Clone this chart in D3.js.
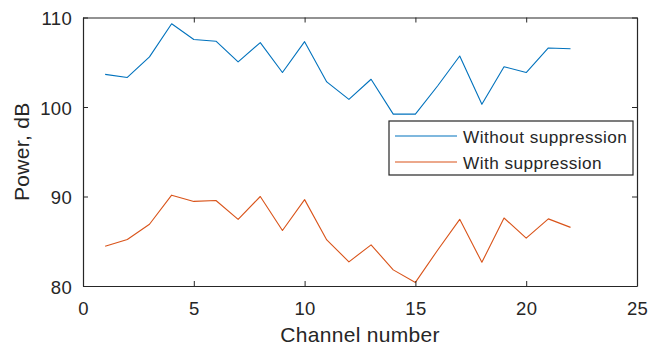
<!DOCTYPE html>
<html><head><meta charset="utf-8">
<script src="https://cdn.jsdelivr.net/npm/d3@7"></script>
<style>body{margin:0;background:#fff}svg{display:block}text{font-family:"Liberation Sans",Arial,sans-serif;fill:#262626}</style>
</head><body>
<script>
const channels = d3.range(1, 23);
const withoutSuppression = [103.65,103.3,105.6,109.3,107.55,107.35,105.05,107.2,103.85,107.3,102.8,100.85,103.1,99.2,99.2,102.35,105.7,100.3,104.5,103.85,106.6,106.5];
const withSuppression = [84.45,85.2,86.9,90.15,89.45,89.55,87.45,90.0,86.2,89.65,85.15,82.7,84.6,81.8,80.4,84.0,87.45,82.65,87.6,85.35,87.5,86.55];
const xTicks = [0,5,10,15,20,25];
const yTicks = [80,90,100,110];
const seriesNames = ["Without suppression","With suppression"];
const colors = ["#0072BD","#D95319"];

const W = 653, H = 348;
const m = {l:83, r:16, t:17.5, b:62};
const svg = d3.select("body").append("svg").attr("width",W).attr("height",H);
const x = d3.scaleLinear().domain([0,25]).range([m.l, W-m.r]);
const y = d3.scaleLinear().domain([80,110]).range([H-m.b, m.t]);
const axCol = "#262626";

// lines
const line = d3.line().x((d,i)=>x(channels[i])).y(d=>y(d));
[withoutSuppression, withSuppression].forEach((s,k)=>{
  svg.append("path").datum(s).attr("d",line).attr("fill","none")
    .attr("stroke",colors[k]).attr("stroke-width",1.1).attr("stroke-linejoin","round");
});

// axes
const tl = 5;
const gB = svg.append("g").attr("transform",`translate(0,${y(80)})`)
  .call(d3.axisBottom(x).tickValues(xTicks).tickSizeInner(-tl).tickSizeOuter(0).tickPadding(16));
const gT = svg.append("g").attr("transform",`translate(0,${y(110)})`)
  .call(d3.axisTop(x).tickValues(xTicks).tickSizeInner(-tl).tickSizeOuter(0).tickFormat(""));
const gL = svg.append("g").attr("transform",`translate(${x(0)},0)`)
  .call(d3.axisLeft(y).tickValues(yTicks).tickSizeInner(-tl).tickSizeOuter(0).tickPadding(11));
const gR = svg.append("g").attr("transform",`translate(${x(25)},0)`)
  .call(d3.axisRight(y).tickValues(yTicks).tickSizeInner(-tl).tickSizeOuter(0).tickFormat(""));
[gB,gT,gL,gR].forEach(g=>{
  g.selectAll("path.domain").attr("stroke",axCol).attr("stroke-width",1.2);
  g.selectAll("line").attr("stroke",axCol).attr("stroke-width",1);
  g.selectAll("text").attr("font-size",18.5).attr("fill",axCol).attr("letter-spacing",0.3)
    .style("font-family","'Liberation Sans',Arial,sans-serif");
});
gL.selectAll("text").attr("dy","0.4em");

// axis labels
svg.append("text").attr("x",(x(0)+x(25))/2).attr("y",342).attr("text-anchor","middle")
  .attr("font-size",21).attr("letter-spacing",0.3).text("Channel number");
svg.append("text").attr("transform",`translate(29,${(y(80)+y(110))/2}) rotate(-90)`)
  .attr("text-anchor","middle").attr("font-size",21).attr("letter-spacing",0.3).text("Power, dB");

// legend
const lg = svg.append("g");
lg.append("rect").attr("x",389).attr("y",121).attr("width",244).attr("height",54)
  .attr("fill","#fff").attr("stroke",axCol).attr("stroke-width",1.2);
seriesNames.forEach((n,i)=>{
  const yy = 136 + i*26;
  lg.append("line").attr("x1",395).attr("x2",457).attr("y1",yy).attr("y2",yy)
    .attr("stroke",colors[i]).attr("stroke-width",1.2);
  lg.append("text").attr("x",463).attr("y",yy).attr("dy","0.38em").attr("font-size",17.2)
    .attr("letter-spacing",0.45).text(n);
});
</script>
</body></html>
